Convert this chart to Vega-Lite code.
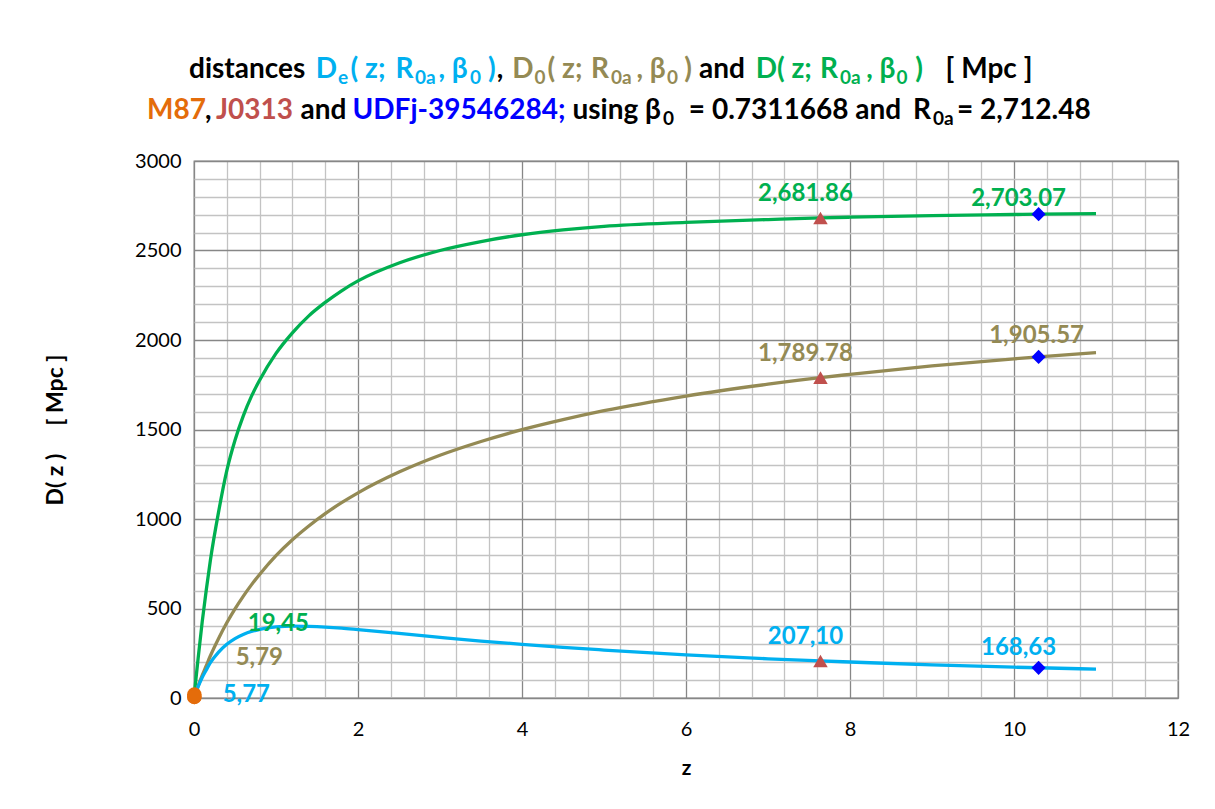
{
  "$schema": "https://vega.github.io/schema/vega-lite/v6.json",
  "autosize": {"type": "pad"},
  "padding": {"left": 43, "top": 50, "right": 5, "bottom": 5},
  "background": "white",
  "spacing": 20,
  "config": {
    "font": "Lato",
    "view": {"stroke": "#868686", "strokeWidth": 1.3}
  },
  "datasets": {
    "heading": [
      {"k": 1, "tone": "plain", "text": "distances"},
      {"k": 2, "tone": "De", "text": "D"},
      {"k": 3, "tone": "De", "text": "e"},
      {"k": 4, "tone": "De", "text": "( z;"},
      {"k": 5, "tone": "De", "text": "R"},
      {"k": 6, "tone": "De", "text": "0a"},
      {"k": 7, "tone": "De", "text": ", β"},
      {"k": 8, "tone": "De", "text": "0"},
      {"k": 9, "tone": "De", "text": ")"},
      {"k": 10, "tone": "plain", "text": ","},
      {"k": 11, "tone": "D0", "text": "D"},
      {"k": 12, "tone": "D0", "text": "0"},
      {"k": 13, "tone": "D0", "text": "( z;"},
      {"k": 14, "tone": "D0", "text": "R"},
      {"k": 15, "tone": "D0", "text": "0a"},
      {"k": 16, "tone": "D0", "text": ", β"},
      {"k": 17, "tone": "D0", "text": "0"},
      {"k": 18, "tone": "D0", "text": ")"},
      {"k": 19, "tone": "plain", "text": "and"},
      {"k": 20, "tone": "D", "text": "D( z;"},
      {"k": 21, "tone": "D", "text": "R"},
      {"k": 22, "tone": "D", "text": "0a"},
      {"k": 23, "tone": "D", "text": ", β"},
      {"k": 24, "tone": "D", "text": "0"},
      {"k": 25, "tone": "D", "text": ")"},
      {"k": 26, "tone": "plain", "text": "[ Mpc ]"},
      {"k": 27, "tone": "M87", "text": "M87"},
      {"k": 28, "tone": "plain", "text": ","},
      {"k": 29, "tone": "J0313", "text": "J0313"},
      {"k": 30, "tone": "plain", "text": "and"},
      {"k": 31, "tone": "UDFj-39546284", "text": "UDFj-39546284;"},
      {"k": 32, "tone": "plain", "text": "using β"},
      {"k": 33, "tone": "plain", "text": "0"},
      {"k": 34, "tone": "plain", "text": "= 0.7311668 and"},
      {"k": 35, "tone": "plain", "text": "R"},
      {"k": 36, "tone": "plain", "text": "0a"},
      {"k": 37, "tone": "plain", "text": "= 2,712.48"}
    ],
    "curves": [
      {"z": 0, "D": 0, "D0": 0, "De": 0},
      {"z": 0.02, "D": 91, "D0": 27, "De": 27},
      {"z": 0.05, "D": 220, "D0": 66, "De": 63},
      {"z": 0.1, "D": 425, "D0": 126, "De": 115},
      {"z": 0.15, "D": 605, "D0": 181, "De": 157},
      {"z": 0.2, "D": 770, "D0": 236, "De": 197},
      {"z": 0.3, "D": 1040, "D0": 333, "De": 256},
      {"z": 0.4, "D": 1270, "D0": 420, "De": 300},
      {"z": 0.5, "D": 1440, "D0": 498, "De": 332},
      {"z": 0.6, "D": 1575, "D0": 568, "De": 355},
      {"z": 0.7, "D": 1685, "D0": 632, "De": 372},
      {"z": 0.8, "D": 1775, "D0": 690, "De": 383},
      {"z": 1.0, "D": 1925, "D0": 795, "De": 397},
      {"z": 1.2, "D": 2040, "D0": 884, "De": 402},
      {"z": 1.4, "D": 2135, "D0": 961, "De": 400},
      {"z": 1.6, "D": 2210, "D0": 1030, "De": 396},
      {"z": 1.8, "D": 2275, "D0": 1091, "De": 390},
      {"z": 2.0, "D": 2330, "D0": 1146, "De": 382},
      {"z": 2.5, "D": 2430, "D0": 1262, "De": 361},
      {"z": 3.0, "D": 2500, "D0": 1356, "De": 339},
      {"z": 3.5, "D": 2550, "D0": 1433, "De": 318},
      {"z": 4.0, "D": 2588, "D0": 1499, "De": 300},
      {"z": 4.5, "D": 2615, "D0": 1555, "De": 283},
      {"z": 5.0, "D": 2635, "D0": 1605, "De": 268},
      {"z": 6.0, "D": 2657, "D0": 1687, "De": 241},
      {"z": 7.0, "D": 2673, "D0": 1753, "De": 219},
      {"z": 7.64, "D": 2682, "D0": 1790, "De": 207},
      {"z": 8.0, "D": 2686, "D0": 1808, "De": 201},
      {"z": 9.0, "D": 2695, "D0": 1855, "De": 185},
      {"z": 10.0, "D": 2701, "D0": 1895, "De": 172},
      {"z": 10.3, "D": 2703, "D0": 1906, "De": 169},
      {"z": 11.0, "D": 2706, "D0": 1930, "De": 161}
    ],
    "objects": [
      {"object": "M87", "z": 0.00428, "series": "D", "value": 19.45, "label": "19,45"},
      {"object": "M87", "z": 0.00428, "series": "D0", "value": 5.79, "label": "5,79"},
      {"object": "M87", "z": 0.00428, "series": "De", "value": 5.77, "label": "5,77"},
      {"object": "J0313", "z": 7.64, "series": "D", "value": 2681.86, "label": "2,681.86"},
      {"object": "J0313", "z": 7.64, "series": "D0", "value": 1789.78, "label": "1,789.78"},
      {"object": "J0313", "z": 7.64, "series": "De", "value": 207.10, "label": "207,10"},
      {"object": "UDFj-39546284", "z": 10.3, "series": "D", "value": 2703.07, "label": "2,703.07"},
      {"object": "UDFj-39546284", "z": 10.3, "series": "D0", "value": 1905.57, "label": "1,905.57"},
      {"object": "UDFj-39546284", "z": 10.3, "series": "De", "value": 168.63, "label": "168,63"}
    ]
  },
  "vconcat": [
    {
      "width": 984,
      "height": 80,
      "view": {"stroke": null},
      "data": {"name": "heading"},
      "encoding": {
        "text": {"field": "text"},
        "color": {"field": "tone", "type": "nominal", "legend": null,
          "scale": {"domain": ["plain", "De", "D0", "D", "M87", "J0313", "UDFj-39546284"], "range": ["#000000", "#00B0F0", "#948A54", "#00B050", "#E46C0A", "#C0504D", "#0000FF"]}}
      },
      "layer": [
        {"transform": [{"filter": "datum.k === 1"}], "mark": {"type": "text", "font": "Lato", "fontWeight": "bold", "fontSize": 28, "baseline": "middle", "align": "left", "dx": -497, "dy": -20}},
        {"transform": [{"filter": "datum.k === 2"}], "mark": {"type": "text", "font": "Lato", "fontWeight": "bold", "fontSize": 28, "baseline": "middle", "align": "right", "dx": -349, "dy": -20}},
        {"transform": [{"filter": "datum.k === 3"}], "mark": {"type": "text", "font": "Lato", "fontWeight": "bold", "fontSize": 19, "baseline": "middle", "align": "left", "dx": -348, "dy": -12}},
        {"transform": [{"filter": "datum.k === 4"}], "mark": {"type": "text", "font": "Lato", "fontWeight": "bold", "fontSize": 28, "baseline": "middle", "align": "center", "dx": -318, "dy": -20}},
        {"transform": [{"filter": "datum.k === 5"}], "mark": {"type": "text", "font": "Lato", "fontWeight": "bold", "fontSize": 28, "baseline": "middle", "align": "right", "dx": -272.5, "dy": -20}},
        {"transform": [{"filter": "datum.k === 6"}], "mark": {"type": "text", "font": "Lato", "fontWeight": "bold", "fontSize": 19, "baseline": "middle", "align": "left", "dx": -271, "dy": -12}},
        {"transform": [{"filter": "datum.k === 7"}], "mark": {"type": "text", "font": "Lato", "fontWeight": "bold", "fontSize": 28, "baseline": "middle", "align": "center", "dx": -233, "dy": -20}},
        {"transform": [{"filter": "datum.k === 8"}], "mark": {"type": "text", "font": "Lato", "fontWeight": "bold", "fontSize": 19, "baseline": "middle", "align": "left", "dx": -216, "dy": -12}},
        {"transform": [{"filter": "datum.k === 9"}], "mark": {"type": "text", "font": "Lato", "fontWeight": "bold", "fontSize": 28, "baseline": "middle", "align": "right", "dx": -190.4, "dy": -20}},
        {"transform": [{"filter": "datum.k === 10"}], "mark": {"type": "text", "font": "Lato", "fontWeight": "bold", "fontSize": 28, "baseline": "middle", "align": "left", "dx": -189.3, "dy": -20}},
        {"transform": [{"filter": "datum.k === 11"}], "mark": {"type": "text", "font": "Lato", "fontWeight": "bold", "fontSize": 28, "baseline": "middle", "align": "right", "dx": -152.5, "dy": -20}},
        {"transform": [{"filter": "datum.k === 12"}], "mark": {"type": "text", "font": "Lato", "fontWeight": "bold", "fontSize": 19, "baseline": "middle", "align": "left", "dx": -151.5, "dy": -12}},
        {"transform": [{"filter": "datum.k === 13"}], "mark": {"type": "text", "font": "Lato", "fontWeight": "bold", "fontSize": 28, "baseline": "middle", "align": "center", "dx": -121, "dy": -20}},
        {"transform": [{"filter": "datum.k === 14"}], "mark": {"type": "text", "font": "Lato", "fontWeight": "bold", "fontSize": 28, "baseline": "middle", "align": "right", "dx": -77, "dy": -20}},
        {"transform": [{"filter": "datum.k === 15"}], "mark": {"type": "text", "font": "Lato", "fontWeight": "bold", "fontSize": 19, "baseline": "middle", "align": "left", "dx": -75, "dy": -12}},
        {"transform": [{"filter": "datum.k === 16"}], "mark": {"type": "text", "font": "Lato", "fontWeight": "bold", "fontSize": 28, "baseline": "middle", "align": "center", "dx": -35, "dy": -20}},
        {"transform": [{"filter": "datum.k === 17"}], "mark": {"type": "text", "font": "Lato", "fontWeight": "bold", "fontSize": 19, "baseline": "middle", "align": "left", "dx": -19, "dy": -12}},
        {"transform": [{"filter": "datum.k === 18"}], "mark": {"type": "text", "font": "Lato", "fontWeight": "bold", "fontSize": 28, "baseline": "middle", "align": "right", "dx": 6, "dy": -20}},
        {"transform": [{"filter": "datum.k === 19"}], "mark": {"type": "text", "font": "Lato", "fontWeight": "bold", "fontSize": 28, "baseline": "middle", "align": "center", "dx": 36, "dy": -20}},
        {"transform": [{"filter": "datum.k === 20"}], "mark": {"type": "text", "font": "Lato", "fontWeight": "bold", "fontSize": 28, "baseline": "middle", "align": "center", "dx": 97.75, "dy": -20}},
        {"transform": [{"filter": "datum.k === 21"}], "mark": {"type": "text", "font": "Lato", "fontWeight": "bold", "fontSize": 28, "baseline": "middle", "align": "right", "dx": 152, "dy": -20}},
        {"transform": [{"filter": "datum.k === 22"}], "mark": {"type": "text", "font": "Lato", "fontWeight": "bold", "fontSize": 19, "baseline": "middle", "align": "left", "dx": 154, "dy": -12}},
        {"transform": [{"filter": "datum.k === 23"}], "mark": {"type": "text", "font": "Lato", "fontWeight": "bold", "fontSize": 28, "baseline": "middle", "align": "center", "dx": 194.75, "dy": -20}},
        {"transform": [{"filter": "datum.k === 24"}], "mark": {"type": "text", "font": "Lato", "fontWeight": "bold", "fontSize": 19, "baseline": "middle", "align": "left", "dx": 210.5, "dy": -12}},
        {"transform": [{"filter": "datum.k === 25"}], "mark": {"type": "text", "font": "Lato", "fontWeight": "bold", "fontSize": 28, "baseline": "middle", "align": "right", "dx": 237, "dy": -20}},
        {"transform": [{"filter": "datum.k === 26"}], "mark": {"type": "text", "font": "Lato", "fontWeight": "bold", "fontSize": 28, "baseline": "middle", "align": "center", "dx": 303, "dy": -20}},
        {"transform": [{"filter": "datum.k === 27"}], "mark": {"type": "text", "font": "Lato", "fontWeight": "bold", "fontSize": 28, "baseline": "middle", "align": "left", "dx": -539, "dy": 21}},
        {"transform": [{"filter": "datum.k === 28"}], "mark": {"type": "text", "font": "Lato", "fontWeight": "bold", "fontSize": 28, "baseline": "middle", "align": "left", "dx": -481, "dy": 21}},
        {"transform": [{"filter": "datum.k === 29"}], "mark": {"type": "text", "font": "Lato", "fontWeight": "bold", "fontSize": 28, "baseline": "middle", "align": "center", "dx": -431.5, "dy": 21}},
        {"transform": [{"filter": "datum.k === 30"}], "mark": {"type": "text", "font": "Lato", "fontWeight": "bold", "fontSize": 28, "baseline": "middle", "align": "center", "dx": -362.5, "dy": 21}},
        {"transform": [{"filter": "datum.k === 31"}], "mark": {"type": "text", "font": "Lato", "fontWeight": "bold", "fontSize": 28, "baseline": "middle", "align": "center", "dx": -227, "dy": 21}},
        {"transform": [{"filter": "datum.k === 32"}], "mark": {"type": "text", "font": "Lato", "fontWeight": "bold", "fontSize": 28, "baseline": "middle", "align": "right", "dx": -25, "dy": 21}},
        {"transform": [{"filter": "datum.k === 33"}], "mark": {"type": "text", "font": "Lato", "fontWeight": "bold", "fontSize": 19, "baseline": "middle", "align": "left", "dx": -23, "dy": 29}},
        {"transform": [{"filter": "datum.k === 34"}], "mark": {"type": "text", "font": "Lato", "fontWeight": "bold", "fontSize": 28, "baseline": "middle", "align": "center", "dx": 109, "dy": 21}},
        {"transform": [{"filter": "datum.k === 35"}], "mark": {"type": "text", "font": "Lato", "fontWeight": "bold", "fontSize": 28, "baseline": "middle", "align": "right", "dx": 245, "dy": 21}},
        {"transform": [{"filter": "datum.k === 36"}], "mark": {"type": "text", "font": "Lato", "fontWeight": "bold", "fontSize": 19, "baseline": "middle", "align": "left", "dx": 247, "dy": 29}},
        {"transform": [{"filter": "datum.k === 37"}], "mark": {"type": "text", "font": "Lato", "fontWeight": "bold", "fontSize": 28, "baseline": "middle", "align": "left", "dx": 271, "dy": 21}}
      ]
    },
    {
      "width": 984,
      "height": 537,
      "encoding": {
        "x": {
          "field": "z", "type": "quantitative",
          "scale": {"domain": [0, 12], "nice": false, "zero": false},
          "axis": {
            "title": "z",
            "values": [0, 0.4, 0.8, 1.2, 1.6, 2, 2.4, 2.8, 3.2, 3.6, 4, 4.4, 4.8, 5.2, 5.6, 6, 6.4, 6.8, 7.2, 7.6, 8, 8.4, 8.8, 9.2, 9.6, 10, 10.4, 10.8, 11.2, 11.6, 12],
            "grid": true,
            "gridColor": {"condition": {"test": "datum.value % 2 === 0", "value": "#878787"}, "value": "#C3C3C3"},
            "gridWidth": 1.3,
            "ticks": false,
            "domain": false,
            "labelExpr": "datum.value % 2 === 0 ? '' + datum.value : ''",
            "labelFont": "Lato", "labelFontSize": 20, "labelColor": "#000000",
            "labelPadding": 21, "labelFlush": false, "labelOverlap": false,
            "titleFont": "Lato", "titleFontSize": 21, "titleFontWeight": "bold", "titleColor": "#000000",
            "titlePadding": 18
          }
        },
        "y": {
          "field": "value", "type": "quantitative",
          "scale": {"domain": [0, 3000], "nice": false},
          "axis": {
            "title": "D( z )\u00a0\u00a0\u00a0\u00a0\u00a0[ Mpc ]",
            "values": [0, 100, 200, 300, 400, 500, 600, 700, 800, 900, 1000, 1100, 1200, 1300, 1400, 1500, 1600, 1700, 1800, 1900, 2000, 2100, 2200, 2300, 2400, 2500, 2600, 2700, 2800, 2900, 3000],
            "grid": true,
            "gridColor": {"condition": {"test": "datum.value % 500 === 0", "value": "#878787"}, "value": "#C3C3C3"},
            "gridWidth": 1.3,
            "ticks": false,
            "domain": false,
            "labelExpr": "datum.value % 500 === 0 ? '' + datum.value : ''",
            "labelFont": "Lato", "labelFontSize": 20, "labelColor": "#000000",
            "labelPadding": 13, "labelOverlap": false,
            "titleFont": "Lato", "titleFontSize": 23, "titleFontWeight": "bold", "titleColor": "#000000",
            "titlePadding": 67
          }
        }
      },
      "layer": [
        {
          "data": {"name": "curves"},
          "transform": [{"fold": ["D", "D0", "De"], "as": ["series", "value"]}],
          "mark": {"type": "line", "strokeWidth": 3.3, "interpolate": "monotone"},
          "encoding": {
            "color": {"field": "series", "type": "nominal", "legend": null,
              "scale": {"domain": ["plain", "De", "D0", "D", "M87", "J0313", "UDFj-39546284"], "range": ["#000000", "#00B0F0", "#948A54", "#00B050", "#E46C0A", "#C0504D", "#0000FF"]}}
          }
        },
        {
          "data": {"name": "objects"},
          "transform": [{"filter": "datum.object === 'J0313'"}],
          "mark": {"type": "point", "shape": "triangle-up", "filled": true, "size": 210, "opacity": 1},
          "encoding": {
            "color": {"field": "object", "type": "nominal", "legend": null,
              "scale": {"domain": ["plain", "De", "D0", "D", "M87", "J0313", "UDFj-39546284"], "range": ["#000000", "#00B0F0", "#948A54", "#00B050", "#E46C0A", "#C0504D", "#0000FF"]}}
          }
        },
        {
          "data": {"name": "objects"},
          "transform": [{"filter": "datum.object === 'UDFj-39546284'"}],
          "mark": {"type": "point", "shape": "diamond", "filled": true, "size": 200, "opacity": 1},
          "encoding": {
            "color": {"field": "object", "type": "nominal", "legend": null,
              "scale": {"domain": ["plain", "De", "D0", "D", "M87", "J0313", "UDFj-39546284"], "range": ["#000000", "#00B0F0", "#948A54", "#00B050", "#E46C0A", "#C0504D", "#0000FF"]}}
          }
        },
        {
          "data": {"name": "objects"},
          "transform": [{"filter": "datum.object === 'M87'"}],
          "mark": {"type": "point", "shape": "circle", "filled": true, "size": 210, "opacity": 1},
          "encoding": {
            "color": {"field": "object", "type": "nominal", "legend": null,
              "scale": {"domain": ["plain", "De", "D0", "D", "M87", "J0313", "UDFj-39546284"], "range": ["#000000", "#00B0F0", "#948A54", "#00B050", "#E46C0A", "#C0504D", "#0000FF"]}}
          }
        },
        {
          "data": {"name": "objects"},
          "transform": [{"filter": "datum.object === 'J0313'"}],
          "mark": {"type": "text", "font": "Lato", "fontSize": 24, "fontWeight": "bold", "baseline": "middle", "dx": -15, "dy": -24},
          "encoding": {
            "text": {"field": "label"},
            "color": {"field": "series", "type": "nominal", "legend": null,
              "scale": {"domain": ["plain", "De", "D0", "D", "M87", "J0313", "UDFj-39546284"], "range": ["#000000", "#00B0F0", "#948A54", "#00B050", "#E46C0A", "#C0504D", "#0000FF"]}}
          }
        },
        {
          "data": {"name": "objects"},
          "transform": [{"filter": "datum.object === 'UDFj-39546284' && datum.series === 'D'"}],
          "mark": {"type": "text", "font": "Lato", "fontSize": 24, "fontWeight": "bold", "baseline": "middle", "dx": -20, "dy": -15},
          "encoding": {
            "text": {"field": "label"},
            "color": {"field": "series", "type": "nominal", "legend": null,
              "scale": {"domain": ["plain", "De", "D0", "D", "M87", "J0313", "UDFj-39546284"], "range": ["#000000", "#00B0F0", "#948A54", "#00B050", "#E46C0A", "#C0504D", "#0000FF"]}}
          }
        },
        {
          "data": {"name": "objects"},
          "transform": [{"filter": "datum.object === 'UDFj-39546284' && datum.series === 'D0'"}],
          "mark": {"type": "text", "font": "Lato", "fontSize": 24, "fontWeight": "bold", "baseline": "middle", "dx": -2, "dy": -21},
          "encoding": {
            "text": {"field": "label"},
            "color": {"field": "series", "type": "nominal", "legend": null,
              "scale": {"domain": ["plain", "De", "D0", "D", "M87", "J0313", "UDFj-39546284"], "range": ["#000000", "#00B0F0", "#948A54", "#00B050", "#E46C0A", "#C0504D", "#0000FF"]}}
          }
        },
        {
          "data": {"name": "objects"},
          "transform": [{"filter": "datum.object === 'UDFj-39546284' && datum.series === 'De'"}],
          "mark": {"type": "text", "font": "Lato", "fontSize": 24, "fontWeight": "bold", "baseline": "middle", "dx": -20, "dy": -20},
          "encoding": {
            "text": {"field": "label"},
            "color": {"field": "series", "type": "nominal", "legend": null,
              "scale": {"domain": ["plain", "De", "D0", "D", "M87", "J0313", "UDFj-39546284"], "range": ["#000000", "#00B0F0", "#948A54", "#00B050", "#E46C0A", "#C0504D", "#0000FF"]}}
          }
        },
        {
          "data": {"name": "objects"},
          "transform": [{"filter": "datum.object === 'M87' && datum.series === 'D'"}],
          "mark": {"type": "text", "font": "Lato", "fontSize": 24, "fontWeight": "bold", "baseline": "middle", "dx": 84, "dy": -71},
          "encoding": {
            "text": {"field": "label"},
            "color": {"field": "series", "type": "nominal", "legend": null,
              "scale": {"domain": ["plain", "De", "D0", "D", "M87", "J0313", "UDFj-39546284"], "range": ["#000000", "#00B0F0", "#948A54", "#00B050", "#E46C0A", "#C0504D", "#0000FF"]}}
          }
        },
        {
          "data": {"name": "objects"},
          "transform": [{"filter": "datum.object === 'M87' && datum.series === 'D0'"}],
          "mark": {"type": "text", "font": "Lato", "fontSize": 24, "fontWeight": "bold", "baseline": "middle", "dx": 65, "dy": -39},
          "encoding": {
            "text": {"field": "label"},
            "color": {"field": "series", "type": "nominal", "legend": null,
              "scale": {"domain": ["plain", "De", "D0", "D", "M87", "J0313", "UDFj-39546284"], "range": ["#000000", "#00B0F0", "#948A54", "#00B050", "#E46C0A", "#C0504D", "#0000FF"]}}
          }
        },
        {
          "data": {"name": "objects"},
          "transform": [{"filter": "datum.object === 'M87' && datum.series === 'De'"}],
          "mark": {"type": "text", "font": "Lato", "fontSize": 24, "fontWeight": "bold", "baseline": "middle", "dx": 52, "dy": -2},
          "encoding": {
            "text": {"field": "label"},
            "color": {"field": "series", "type": "nominal", "legend": null,
              "scale": {"domain": ["plain", "De", "D0", "D", "M87", "J0313", "UDFj-39546284"], "range": ["#000000", "#00B0F0", "#948A54", "#00B050", "#E46C0A", "#C0504D", "#0000FF"]}}
          }
        }
      ]
    }
  ]
}
